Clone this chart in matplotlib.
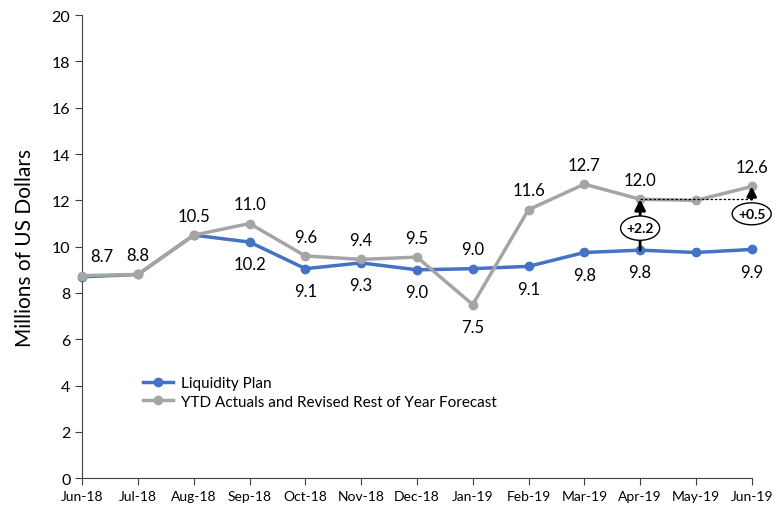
import matplotlib.pyplot as plt
from matplotlib.patches import Ellipse

plt.rcParams['font.family'] = ['Lato', 'DejaVu Sans']

months = ["Jun-18", "Jul-18", "Aug-18", "Sep-18", "Oct-18", "Nov-18", "Dec-18",
          "Jan-19", "Feb-19", "Mar-19", "Apr-19", "May-19", "Jun-19"]
plan = [8.7, 8.8, 10.5, 10.2, 9.05, 9.3, 9.0, 9.05, 9.15, 9.75, 9.85, 9.75, 9.88]
forecast = [8.75, 8.8, 10.5, 11.0, 9.6, 9.45, 9.55, 7.5, 11.6, 12.7, 12.05, 12.0, 12.6]

plan_labels = ["", "", "", "10.2", "9.1", "9.3", "9.0", "9.0", "9.1", "9.8", "9.8", "", "9.9"]
fc_labels = ["8.7", "8.8", "10.5", "11.0", "9.6", "9.4", "9.5", "7.5", "11.6", "12.7", "12.0", "", "12.6"]
# label goes above (1) or below (-1) the point
plan_side = [0, 0, 0, -1, -1, -1, -1, 1, -1, -1, -1, 0, -1]
fc_side = [1, 1, 1, 1, 1, 1, 1, -1, 1, 1, 1, 0, 1]

blue = "#4472C4"
gray = "#A5A5A5"

fig = plt.figure(figsize=(7.83, 5.06), dpi=100)
ax = fig.add_axes([0.105, 0.053, 0.855, 0.915])
x = list(range(len(months)))

ax.plot(x, plan, color=blue, lw=2.5, marker="o", ms=6, label="Liquidity Plan", zorder=3,
        clip_on=False)
ax.plot(x, forecast, color=gray, lw=2.5, marker="o", ms=6,
        label="YTD Actuals and Revised Rest of Year Forecast", zorder=3, clip_on=False)

for i in x:
    if plan_labels[i]:
        off = 14 if plan_side[i] > 0 else -16
        ax.annotate(plan_labels[i], (i, plan[i]), xytext=(0, off), textcoords="offset points",
                    ha="center", va="center", fontsize=12)
    if fc_labels[i]:
        off = 14 if fc_side[i] > 0 else -16
        dx = 14 if i == 0 else 0
        ax.annotate(fc_labels[i], (i, forecast[i]), xytext=(dx, off), textcoords="offset points",
                    ha="center", va="center", fontsize=12)

# gap annotations
ax.annotate("", xy=(10, forecast[10]), xytext=(10, plan[10]),
            arrowprops=dict(arrowstyle="-|>", color="black", lw=2, mutation_scale=16,
                            shrinkA=0, shrinkB=0), zorder=4)
ax.add_patch(Ellipse((10, 10.8), 0.7, 1.05, facecolor="white", edgecolor="black", lw=1,
                     zorder=5, clip_on=False))
ax.text(10, 10.8, "+2.2", ha="center", va="center", fontsize=10, fontweight="bold", zorder=6)

ax.plot([10, 12], [forecast[10], forecast[10]], color="black", lw=0.9, ls=(0, (2, 1.5)),
        zorder=4, clip_on=False)
ax.annotate("", xy=(12, forecast[12]), xytext=(12, forecast[10]),
            arrowprops=dict(arrowstyle="-|>", color="black", lw=2, mutation_scale=14,
                            shrinkA=0, shrinkB=0), zorder=4, annotation_clip=False)
ax.add_patch(Ellipse((12, 11.42), 0.7, 0.95, facecolor="white", edgecolor="black", lw=1,
                     zorder=5, clip_on=False))
ax.text(12, 11.42, "+0.5", ha="center", va="center", fontsize=10, fontweight="bold", zorder=6)

ax.set_xlim(0, 12)
ax.set_ylim(0, 20)
ax.set_yticks(range(0, 21, 2))
ax.set_xticks(x)
ax.set_xticklabels(months, fontsize=10)
ax.tick_params(axis="y", labelsize=11.5, length=5, color="#404040")
ax.tick_params(axis="x", length=5, color="#404040")
for s in ["top", "right"]:
    ax.spines[s].set_visible(False)
for s in ["left", "bottom"]:
    ax.spines[s].set_color("#404040")
ax.set_ylabel("Millions of US Dollars", fontsize=15, labelpad=12)

ax.legend(loc="upper left", bbox_to_anchor=(0.07, 0.25), frameon=False, fontsize=11,
          handlelength=2.0, handletextpad=0.5, labelspacing=0.3)

fig.savefig("out.png", dpi=100)
